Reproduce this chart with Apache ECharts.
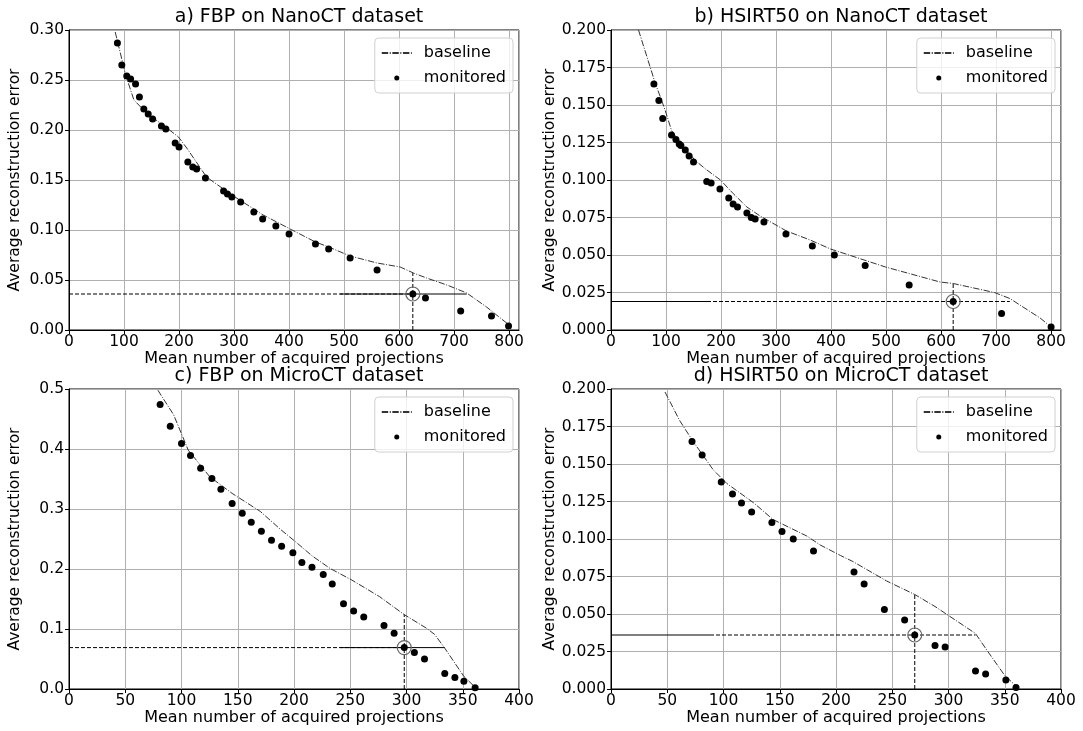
<!DOCTYPE html>
<html>
<head>
<meta charset="utf-8">
<script src="https://cdn.jsdelivr.net/npm/echarts@6/dist/echarts.min.js"></script>
<style>
  html, body { margin: 0; padding: 0; background: #fff; }
  #chart { width: 1083px; height: 731px; }
</style>
</head>
<body>
<div id="chart"></div>
<script>
// a) FBP on NanoCT
const fbpNanoBaseline = [[84,0.298],[103,0.255],[118,0.230],[141,0.217],[178,0.202],[199,0.193],[214,0.182],[250,0.153],[296,0.135],[353,0.115],[402,0.101],[448,0.088],[472,0.083],[511,0.074],[560,0.067],[602,0.063],[626,0.057],[650,0.052],[687,0.045],[723,0.037],[759,0.023],[800,0.005]];
const fbpNanoMonitored = [[88,0.287],[96,0.265],[105,0.254],[112,0.251],[121,0.246],[128,0.233],[136,0.221],[144,0.216],[152,0.211],[168,0.204],[176,0.201],[193,0.187],[200,0.183],[216,0.168],[225,0.163],[232,0.161],[248,0.152],[281,0.139],[288,0.136],[296,0.133],[312,0.128],[336,0.118],[352,0.111],[376,0.104],[400,0.096],[448,0.086],[472,0.081],[511,0.072],[560,0.060],[625,0.036],[648,0.032],[712,0.019],[768,0.014],[799,0.004]];
const fbpNanoPick = [625, 0.036];
const fbpNanoDashed = [0, 625];
const fbpNanoSolid = [493, 723];
const fbpNanoTop = 0.057;

// b) HSIRT50 on NanoCT
const sirtNanoBaseline = [[50,0.200],[80,0.165],[98,0.147],[110,0.133],[126,0.125],[153,0.113],[173,0.107],[199,0.100],[222,0.091],[247,0.082],[271,0.076],[319,0.066],[362,0.060],[399,0.054],[499,0.042],[598,0.032],[622,0.031],[697,0.025],[725,0.021],[780,0.008],[800,0.002]];
const sirtNanoMonitored = [[78,0.164],[87,0.153],[94,0.141],[110,0.130],[118,0.127],[124,0.124],[127,0.123],[135,0.120],[142,0.116],[150,0.112],[174,0.099],[182,0.098],[198,0.094],[214,0.088],[222,0.084],[230,0.082],[247,0.078],[255,0.075],[262,0.074],[278,0.072],[318,0.064],[366,0.056],[406,0.050],[462,0.043],[542,0.030],[622,0.019],[710,0.011],[800,0.002]];
const sirtNanoPick = [622, 0.019];
const sirtNanoDashed = [0, 725];
const sirtNanoSolid = [0, 180];
const sirtNanoTop = 0.031;

// c) FBP on MicroCT
const fbpMicroBaseline = [[79,0.498],[93,0.457],[106,0.398],[125,0.354],[145,0.326],[170,0.296],[188,0.266],[201,0.246],[216,0.222],[232,0.201],[251,0.182],[276,0.154],[298,0.124],[318,0.101],[325,0.091],[334,0.068],[351,0.021],[361,0.003]];
const fbpMicroMonitored = [[81,0.474],[90,0.438],[100,0.409],[108,0.389],[117,0.368],[127,0.351],[135,0.333],[145,0.309],[154,0.293],[162,0.278],[171,0.263],[180,0.248],[189,0.238],[199,0.227],[207,0.211],[216,0.203],[226,0.191],[234,0.175],[244,0.142],[253,0.130],[262,0.120],[280,0.106],[289,0.093],[298,0.069],[307,0.061],[316,0.050],[334,0.026],[343,0.019],[351,0.013],[361,0.002]];
const fbpMicroPick = [298, 0.069];
const fbpMicroDashed = [0, 298];
const fbpMicroSolid = [241, 334];
const fbpMicroTop = 0.124;

// d) HSIRT50 on MicroCT
const sirtMicroBaseline = [[48,0.198],[61,0.179],[73,0.165],[91,0.146],[103,0.137],[127,0.124],[144,0.113],[174,0.102],[186,0.096],[204,0.089],[215,0.085],[245,0.072],[270,0.063],[288,0.055],[300,0.049],[324,0.037],[334,0.026],[350,0.009],[360,0.002]];
const sirtMicroMonitored = [[72,0.165],[81,0.156],[98,0.138],[108,0.130],[116,0.124],[125,0.118],[143,0.111],[152,0.105],[162,0.100],[180,0.092],[216,0.078],[225,0.070],[243,0.053],[261,0.046],[270,0.036],[288,0.029],[297,0.028],[324,0.012],[333,0.010],[351,0.006],[360,0.001]];
const sirtMicroPick = [270, 0.036];
const sirtMicroDashed = [88, 324];
const sirtMicroSolid = [0, 88];
const sirtMicroTop = 0.063;

const titles = ['a) FBP on NanoCT dataset', 'b) HSIRT50 on NanoCT dataset', 'c) FBP on MicroCT dataset', 'd) HSIRT50 on MicroCT dataset'];
const xMax = [818, 818, 400, 400];
const xStep = [100, 100, 50, 50];
const yMax = [0.30, 0.20, 0.5, 0.20];
const yStep = [0.05, 0.025, 0.1, 0.025];
const yDigits = [2, 3, 1, 3];

const panels = [
    { base: fbpNanoBaseline, mon: fbpNanoMonitored, pick: fbpNanoPick, dashed: fbpNanoDashed, solid: fbpNanoSolid, top: fbpNanoTop },
    { base: sirtNanoBaseline, mon: sirtNanoMonitored, pick: sirtNanoPick, dashed: sirtNanoDashed, solid: sirtNanoSolid, top: sirtNanoTop },
    { base: fbpMicroBaseline, mon: fbpMicroMonitored, pick: fbpMicroPick, dashed: fbpMicroDashed, solid: fbpMicroSolid, top: fbpMicroTop },
    { base: sirtMicroBaseline, mon: sirtMicroMonitored, pick: sirtMicroPick, dashed: sirtMicroDashed, solid: sirtMicroSolid, top: sirtMicroTop }
];

const FONT = 'DejaVu Sans';
const gridPos = [
    { left: 69, top: 30 }, { left: 611, top: 30 },
    { left: 69, top: 389 }, { left: 611, top: 389 }
];

const chart = echarts.init(document.getElementById('chart'));

const grid = gridPos.map(p => ({
    left: p.left, top: p.top, width: 450, height: 300,
    show: true, borderColor: '#000', borderWidth: 1, backgroundColor: 'transparent'
}));

const title = titles.map((t, i) => ({
    text: t,
    left: gridPos[i].left + 225,
    top: gridPos[i].top - 27,
    textAlign: 'center',
    textStyle: { fontFamily: FONT, fontSize: 19, fontWeight: 'normal', color: '#000' }
}));

const xAxis = panels.map((p, i) => ({
    type: 'value', gridIndex: i, min: 0, max: xMax[i], interval: xStep[i],
    name: 'Mean number of acquired projections',
    nameLocation: 'middle', nameGap: 20,
    nameTextStyle: { fontFamily: FONT, fontSize: 16, color: '#000' },
    axisLine: { show: true, onZero: false, lineStyle: { color: '#000' } },
    axisTick: { show: true, length: 4, lineStyle: { color: '#000' } },
    axisLabel: { fontFamily: FONT, fontSize: 15.5, color: '#000', margin: 4, showMaxLabel: xMax[i] % xStep[i] === 0 },
    splitLine: { show: true, lineStyle: { color: '#b0b0b0', width: 1 } }
}));

const yAxis = panels.map((p, i) => ({
    type: 'value', gridIndex: i, min: 0, max: yMax[i], interval: yStep[i],
    name: 'Average reconstruction error',
    nameLocation: 'middle', nameGap: 46,
    nameTextStyle: { fontFamily: FONT, fontSize: 15.5, color: '#000' },
    axisLine: { show: true, onZero: false, lineStyle: { color: '#000' } },
    axisTick: { show: true, length: 4, lineStyle: { color: '#000' } },
    axisLabel: { fontFamily: FONT, fontSize: 15.5, color: '#000', margin: 5,
        formatter: v => v.toFixed(yDigits[i]) },
    splitLine: { show: true, lineStyle: { color: '#b0b0b0', width: 1 } }
}));

const series = [];
panels.forEach((p, i) => {
    const px = p.pick[0], py = p.pick[1];
    series.push({
        type: 'line', xAxisIndex: i, yAxisIndex: i, symbol: 'none', silent: true, z: 3,
        data: [[p.dashed[0], py], [p.dashed[1], py]],
        lineStyle: { color: '#000', width: 1, type: [4, 2] }
    });
    series.push({
        type: 'line', xAxisIndex: i, yAxisIndex: i, symbol: 'none', silent: true, z: 3,
        data: [[p.solid[0], py], [p.solid[1], py]],
        lineStyle: { color: '#000', width: 1, type: 'solid' }
    });
    series.push({
        type: 'line', xAxisIndex: i, yAxisIndex: i, symbol: 'none', silent: true, z: 3,
        data: [[px, 0], [px, p.top]],
        lineStyle: { color: '#000', width: 1, type: [4, 2] }
    });
    series.push({
        name: 'baseline', type: 'line', xAxisIndex: i, yAxisIndex: i, symbol: 'none', z: 4,
        data: p.base,
        itemStyle: { color: '#333' },
        lineStyle: { color: '#333', width: 1, type: [6.4, 1.6, 1, 1.6] }
    });
    series.push({
        name: 'monitored', type: 'scatter', xAxisIndex: i, yAxisIndex: i, symbolSize: 7, z: 5,
        data: p.mon,
        itemStyle: { color: '#000', opacity: 1 }
    });
    series.push({
        type: 'scatter', xAxisIndex: i, yAxisIndex: i, symbolSize: 14, z: 6, silent: true,
        data: [p.pick],
        itemStyle: { color: 'transparent', borderColor: '#666', borderWidth: 1.2, opacity: 1 }
    });
});

const legendRight = [570, 28, 570, 28];
const legend = gridPos.map((g, i) => ({
    right: legendRight[i], top: g.top + 8,
    orient: 'vertical',
    data: [
        { name: 'baseline', itemStyle: { opacity: 0 } },
        { name: 'monitored', icon: 'circle', itemStyle: { color: '#000', opacity: 1 } }
    ],
    itemWidth: 30, itemHeight: 5, itemGap: 9,
    padding: [7, 7, 7, 6],
    backgroundColor: 'rgba(255,255,255,0.8)',
    borderColor: '#d0d0d0', borderWidth: 1, borderRadius: 4,
    selectedMode: false,
    textStyle: { fontFamily: FONT, fontSize: 16, color: '#000', padding: [0, 0, 0, 7] }
}));

chart.setOption({
    animation: false,
    title: title,
    grid: grid,
    xAxis: xAxis,
    yAxis: yAxis,
    legend: legend,
    series: series
});
</script>
</body>
</html>
